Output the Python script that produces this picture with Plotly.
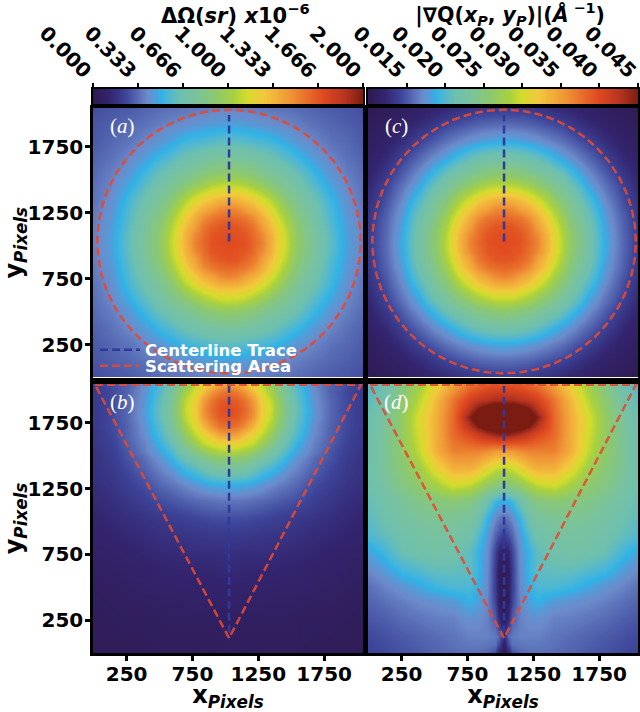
import numpy as np
import plotly.graph_objects as go

W, H = 640, 712
TICK_FONT = dict(family="DejaVu Sans", size=20, color="black", weight="bold")

# colour scale
cmap = [[0, "#2e1a50"], [0.06, "#33246e"], [0.12, "#3d4499"], [0.20, "#6c8aca"], [0.235, "#4aa2dc"], [0.25, "#2fb2e6"],
        [0.275, "#4cb6d6"], [0.32, "#6cbfb0"], [0.37, "#78c2a0"], [0.45, "#8cc870"], [0.52, "#a8d040"], [0.57, "#d4dc2c"],
        [0.63, "#f2c83c"], [0.72, "#f09a38"], [0.85, "#e04a20"], [0.93, "#b83420"], [1, "#7a1c12"]]

# grid nodes, detector pixels
offsets_ac = [1024, 896, 768, 640, 512, 448, 384, 320, 256, 192, 128, 64, 0]
offsets_b = offsets_ac
rows_b = [0, 128, 256, 384, 512, 640, 768, 896, 1024, 1152, 1280, 1408, 1472, 1536, 1600, 1664, 1728, 1792, 1856,
          1920, 1984, 2048]
offsets_d = [1024, 896, 768, 640, 512, 384, 256, 192, 128, 64, 32, 0]
rows_d = [0, 64, 128, 256, 384, 512, 640, 768, 896, 1024, 1152, 1280, 1408, 1536, 1664, 1728, 1792, 1856, 1920, 2048]

# (a) position along the colour bar, lower-left quadrant
omega_a_frac = [
    [.13, .14, .145, .155, .165, .17, .173, .175, .18, .183, .187, .19, .19],
    [.14, .15, .16, .172, .187, .195, .20, .207, .213, .22, .225, .229, .23],
    [.145, .16, .173, .195, .217, .235, .25, .265, .275, .28, .29, .298, .30],
    [.155, .172, .195, .225, .27, .288, .31, .33, .345, .36, .37, .378, .38],
    [.165, .187, .217, .27, .325, .35, .38, .39, .415, .435, .455, .465, .47],
    [.17, .195, .235, .288, .35, .385, .40, .43, .465, .495, .52, .535, .54],
    [.173, .20, .25, .31, .38, .40, .44, .485, .525, .555, .585, .60, .61],
    [.175, .207, .265, .33, .39, .43, .485, .535, .58, .62, .65, .675, .68],
    [.18, .213, .275, .345, .415, .465, .525, .58, .635, .68, .71, .745, .76],
    [.183, .22, .28, .36, .435, .495, .555, .62, .68, .735, .775, .79, .80],
    [.187, .225, .29, .37, .455, .52, .585, .65, .71, .775, .81, .83, .84],
    [.19, .229, .298, .378, .465, .535, .60, .675, .745, .79, .83, .84, .845],
    [.19, .23, .30, .38, .47, .54, .61, .68, .76, .80, .84, .845, .85],
]
# (c) position along the colour bar, lower-left quadrant
gradq_c_frac = [
    [.008, .02, .03, .044, .058, .066, .075, .083, .09, .096, .10, .104, .105],
    [.02, .035, .05, .072, .10, .115, .125, .135, .145, .155, .16, .163, .165],
    [.03, .05, .078, .115, .15, .17, .185, .20, .215, .225, .235, .242, .245],
    [.044, .072, .115, .16, .21, .233, .26, .285, .31, .33, .345, .35, .355],
    [.058, .10, .15, .21, .28, .32, .355, .38, .40, .425, .44, .455, .46],
    [.066, .115, .17, .233, .32, .36, .39, .42, .455, .485, .51, .525, .53],
    [.075, .125, .185, .26, .355, .39, .43, .475, .515, .55, .58, .60, .605],
    [.083, .135, .20, .285, .38, .42, .475, .525, .575, .62, .65, .675, .68],
    [.09, .145, .215, .31, .40, .455, .515, .575, .63, .68, .71, .745, .76],
    [.096, .155, .225, .33, .425, .485, .55, .62, .68, .735, .775, .79, .80],
    [.10, .16, .235, .345, .44, .51, .58, .65, .71, .775, .81, .83, .835],
    [.104, .163, .242, .35, .455, .525, .60, .675, .745, .79, .83, .84, .845],
    [.105, .165, .245, .355, .46, .53, .605, .68, .76, .80, .835, .845, .85],
]
# (b) position along the colour bar, left half, bottom row first
omega_b_frac = [
    [.015, .02, .02, .02, .025, .025, .025, .025, .025, .025, .025, .03, .03],
    [.02, .02, .025, .025, .03, .03, .03, .03, .03, .03, .03, .03, .03],
    [.02, .025, .03, .03, .03, .033, .035, .035, .035, .035, .035, .035, .035],
    [.025, .03, .035, .035, .04, .04, .04, .043, .045, .045, .045, .045, .045],
    [.03, .035, .04, .045, .05, .05, .05, .053, .055, .055, .055, .055, .055],
    [.04, .04, .05, .05, .06, .06, .06, .063, .065, .065, .065, .07, .07],
    [.045, .05, .055, .065, .07, .072, .075, .078, .08, .08, .08, .08, .085],
    [.055, .06, .07, .075, .085, .088, .09, .092, .095, .095, .10, .10, .10],
    [.06, .07, .08, .09, .10, .105, .11, .115, .12, .125, .13, .13, .13],
    [.07, .08, .095, .11, .13, .138, .145, .152, .16, .165, .17, .175, .175],
    [.08, .09, .11, .13, .16, .172, .185, .20, .215, .23, .24, .245, .25],
    [.085, .10, .125, .155, .195, .215, .245, .275, .295, .33, .36, .37, .375],
    [.085, .105, .135, .165, .215, .245, .285, .32, .355, .39, .425, .44, .45],
    [.09, .11, .14, .185, .24, .275, .325, .37, .425, .475, .51, .53, .54],
    [.095, .115, .15, .19, .26, .31, .36, .43, .49, .55, .58, .61, .61],
    [.095, .12, .155, .205, .285, .34, .40, .48, .55, .60, .655, .71, .725],
    [.10, .125, .155, .21, .30, .365, .44, .52, .585, .66, .74, .785, .80],
    [.10, .125, .16, .22, .315, .375, .46, .55, .61, .72, .785, .825, .835],
    [.10, .125, .16, .22, .32, .38, .47, .56, .62, .73, .80, .835, .85],
    [.10, .125, .16, .215, .31, .37, .46, .55, .605, .71, .78, .82, .83],
    [.10, .125, .155, .21, .30, .36, .435, .51, .58, .65, .73, .77, .79],
    [.11, .13, .155, .20, .28, .335, .395, .47, .54, .59, .64, .695, .71],
]
# (d) position along the colour bar, left half, bottom row first (above 1 = saturated dark red)
gradq_d_frac = [
    [.115, .125, .135, .145, .155, .165, .17, .17, .16, .13, .05, .01],
    [.12, .13, .14, .15, .16, .17, .18, .18, .175, .17, .12, .03],
    [.125, .135, .145, .155, .165, .175, .19, .19, .19, .18, .16, .08],
    [.14, .15, .165, .175, .185, .19, .21, .205, .19, .15, .07, .02],
    [.155, .17, .185, .20, .21, .22, .25, .23, .195, .12, .035, .01],
    [.17, .195, .215, .24, .265, .28, .28, .25, .20, .11, .03, .01],
    [.20, .23, .27, .29, .31, .31, .30, .26, .205, .11, .03, .01],
    [.235, .27, .32, .34, .35, .34, .30, .255, .21, .12, .06, .04],
    [.28, .31, .34, .36, .37, .36, .34, .29, .225, .16, .13, .11],
    [.30, .33, .36, .38, .39, .39, .37, .34, .26, .20, .18, .17],
    [.31, .35, .38, .41, .43, .44, .42, .39, .33, .27, .25, .25],
    [.33, .37, .42, .46, .51, .57, .55, .51, .47, .44, .43, .43],
    [.33, .39, .44, .50, .60, .68, .68, .65, .60, .56, .55, .54],
    [.33, .39, .46, .55, .68, .76, .76, .76, .74, .72, .72, .71],
    [.33, .39, .47, .57, .68, .80, .86, .90, .94, .97, .98, .98],
    [.325, .385, .47, .58, .68, .80, .93, 1.0, 1.05, 1.08, 1.08, 1.08],
    [.32, .38, .47, .58, .68, .80, .99, 1.08, 1.15, 1.18, 1.2, 1.2],
    [.31, .37, .46, .56, .67, .79, .93, 1.0, 1.05, 1.08, 1.08, 1.08],
    [.30, .36, .45, .54, .66, .78, .88, .91, .93, .95, .95, .95],
    [.28, .33, .42, .50, .60, .70, .78, .80, .82, .83, .83, .83],
]

OMEGA_MAX = 2.0
GRAD_MIN, GRAD_MAX = 0.010, 0.045

# overlays
center_x, circle_center_y, circle_radius = 1028, 1032, 1000
centerline_top_a = 1992
triangle_x = [10, 2030, 1028, 10]
triangle_y = [2040, 2040, 113, 2040]
centerline_x_b = [1028, 1028]
centerline_y_b = [2040, 113]

omega_ticks = [0, .333, .666, 1, 1.333, 1.666, 2]
omega_labels = ["0.000", "0.333", "0.666", "1.000", "1.333", "1.666", "2.000"]
grad_ticks = [.015, .020, .025, .030, .035, .040, .045]
grad_labels = ["0.015", "0.020", "0.025", "0.030", "0.035", "0.040", "0.045"]
axis_ticks = [250, 750, 1250, 1750]


def mirror_cols(q):
    return [r + r[-2::-1] for r in q]


def mirror2(q):
    rows = mirror_cols(q)
    return rows + rows[-2::-1]


def nodes(offsets):
    return [1024 - o for o in offsets] + [1024 + o for o in offsets[-2::-1]]


x_ac = nodes(offsets_ac)
x_b = nodes(offsets_b)
x_d = nodes(offsets_d)
z_a = (OMEGA_MAX * np.array(mirror2(omega_a_frac))).tolist()
z_c = (GRAD_MIN + (GRAD_MAX - GRAD_MIN) * np.array(mirror2(gradq_c_frac))).tolist()
z_b = (OMEGA_MAX * np.array(mirror_cols(omega_b_frac))).tolist()
z_d = (GRAD_MIN + (GRAD_MAX - GRAD_MIN) * np.array(mirror_cols(gradq_d_frac))).tolist()

fig = go.Figure()
RED = "rgba(226,74,50,0.9)"
BLUE = "#2e3a9c"
DASH = "8px,4px"
LW = 2.5


def heat(z, x, y, axes, ca):
    fig.add_trace(go.Heatmap(z=z, x=x, y=y, xaxis="x" + axes, yaxis="y" + axes, coloraxis=ca,
                             zsmooth="best", hoverinfo="skip"))


heat(z_a, x_ac, x_ac, "", "coloraxis")
heat(z_c, x_ac, x_ac, "2", "coloraxis2")
heat(z_b, x_b, rows_b, "3", "coloraxis")
heat(z_d, x_d, rows_d, "4", "coloraxis2")

# colour bars, drawn as gradient strips with their own top axes
strip_a = np.linspace(0, OMEGA_MAX, 271).tolist()
strip_c = np.linspace(GRAD_MIN, GRAD_MAX, 271).tolist()
heat([strip_a, strip_a], strip_a, [0, 1], "5", "coloraxis")
heat([strip_c, strip_c], strip_c, [0, 1], "6", "coloraxis2")

theta = np.linspace(0, 2 * np.pi, 241)
circ_x = center_x + circle_radius * np.cos(theta)
circ_y = circle_center_y + circle_radius * np.sin(theta)

for i, axes in enumerate(["", "2"]):
    fig.add_trace(go.Scatter(x=[center_x, center_x], y=[circle_center_y, centerline_top_a], mode="lines",
                             xaxis="x" + axes, yaxis="y" + axes, name="Centerline Trace",
                             line=dict(color=BLUE, width=LW, dash=DASH), showlegend=i == 0, legend="legend"))
    fig.add_trace(go.Scatter(x=circ_x, y=circ_y, mode="lines", xaxis="x" + axes, yaxis="y" + axes,
                             name="Scattering Area", line=dict(color=RED, width=LW, dash=DASH),
                             showlegend=i == 0, legend="legend2"))
for axes in ["3", "4"]:
    fig.add_trace(go.Scatter(x=centerline_x_b, y=centerline_y_b, mode="lines", xaxis="x" + axes, yaxis="y" + axes,
                             line=dict(color=BLUE, width=LW, dash=DASH), showlegend=False))
    fig.add_trace(go.Scatter(x=triangle_x, y=triangle_y, mode="lines", xaxis="x" + axes, yaxis="y" + axes,
                             line=dict(color=RED, width=LW, dash=DASH), showlegend=False))


def px_x(a, b):
    return [a / W, b / W]


def px_y(top, bot):
    return [1 - bot / H, 1 - top / H]


def xaxis(dom, anchor, labels):
    d = dict(domain=dom, anchor=anchor, range=[-5, 2045], showgrid=False, zeroline=False, mirror=True,
             showline=True, linecolor="black", linewidth=2.5)
    if labels:
        d.update(tickvals=axis_ticks, ticks="outside", ticklen=5, tickwidth=2.5, tickcolor="black",
                 tickfont=TICK_FONT, ticklabelstandoff=-4,
                 title=dict(text="<b>x<sub><i>Pixels</i></sub></b>", standoff=10,
                            font=dict(family="DejaVu Sans", size=24, color="black")))
    else:
        d.update(showticklabels=False, ticks="")
    return d


def yaxis(dom, anchor, labels):
    d = dict(domain=dom, anchor=anchor, range=[0, 2045], showgrid=False, zeroline=False, mirror=True,
             showline=True, linecolor="black", linewidth=2.5)
    if labels:
        d.update(tickvals=axis_ticks, ticks="outside", ticklen=5, tickwidth=2.5, tickcolor="black",
                 tickfont=TICK_FONT, ticklabelstandoff=-2,
                 title=dict(text="<b>y<sub><i>Pixels</i></sub></b>", standoff=8,
                            font=dict(family="DejaVu Sans", size=24, color="black")))
    else:
        d.update(showticklabels=False, ticks="")
    return d


def bar_x(dom, anchor, rng, ticks, labels, title, size):
    return dict(domain=dom, anchor=anchor, range=rng, side="top", showgrid=False, zeroline=False, mirror=True,
                showline=True, linecolor="black", linewidth=1.5, tickvals=ticks, ticktext=labels,
                ticks="outside", ticklen=4, tickwidth=1.5, tickcolor="black", tickangle=45, tickfont=TICK_FONT,
                ticklabelstandoff=-7, ticklabelshift=-3, ticklabeloverflow="allow",
                title=dict(text=title, standoff=5, font=dict(family="DejaVu Sans", size=size, color="black")))


def bar_y(dom, anchor):
    return dict(domain=dom, anchor=anchor, range=[0, 1], showgrid=False, zeroline=False, mirror=True, showline=True,
                linecolor="black", linewidth=1.5, showticklabels=False, ticks="")


LEG_FONT = dict(family="DejaVu Sans", size=16.5, color="white", weight="bold")
panel_labels = [("(<i>a</i>)", 122, 126), ("(<i>c</i>)", 396, 126), ("(<i>b</i>)", 122, 402), ("(<i>d</i>)", 396, 402)]

fig.update_layout(
    width=W, height=H, margin=dict(l=0, r=0, t=0, b=0, autoexpand=False), paper_bgcolor="white",
    plot_bgcolor="white",
    xaxis=xaxis(px_x(93, 363), "y", False), yaxis=yaxis(px_y(108, 377.5), "x", True),
    xaxis2=xaxis(px_x(368, 638), "y2", False), yaxis2=yaxis(px_y(108, 377.5), "x2", False),
    xaxis3=xaxis(px_x(93, 363), "y3", True), yaxis3=yaxis(px_y(384, 653), "x3", True),
    xaxis4=xaxis(px_x(368, 638), "y4", True), yaxis4=yaxis(px_y(384, 653), "x4", False),
    xaxis5=bar_x(px_x(93, 363), "y5", [0, OMEGA_MAX], omega_ticks, omega_labels,
                 "<b>\u00a0\u00a0ΔΩ(<i>sr</i>) <i>x</i>10<sup>−6</sup></b>", 21),
    yaxis5=bar_y(px_y(89, 104), "x5"),
    xaxis6=bar_x(px_x(368, 638), "y6", [GRAD_MIN, GRAD_MAX + 1e-6], grad_ticks, grad_labels,
                 "<b>\u00a0\u00a0|∇Q(<i>x<sub>P</sub></i>, <i>y<sub>P</sub></i>)|(<i>Å</i><sup> −1</sup>)</b>", 20.5),
    yaxis6=bar_y(px_y(89, 104), "x6"),
    coloraxis=dict(colorscale=cmap, cmin=0, cmax=OMEGA_MAX, showscale=False),
    coloraxis2=dict(colorscale=cmap, cmin=GRAD_MIN, cmax=GRAD_MAX, showscale=False),
    legend=dict(x=95 / W, y=1 - 350 / H, xanchor="left", yanchor="middle", bgcolor="rgba(0,0,0,0)",
                font=LEG_FONT, itemwidth=40, borderwidth=0),
    legend2=dict(x=95 / W, y=1 - 366 / H, xanchor="left", yanchor="middle", bgcolor="rgba(0,0,0,0)",
                 font=LEG_FONT, itemwidth=40, borderwidth=0),
    annotations=[dict(text=t, x=x / W, y=1 - y / H, xref="paper", yref="paper", showarrow=False,
                      xanchor="center", yanchor="middle",
                      font=dict(family="Liberation Serif", size=21, color="white"))
                 for t, x, y in panel_labels],
)

fig.write_html("out.html", config={"displayModeBar": False},
               post_script="document.body.style.margin='0';document.documentElement.style.overflow='hidden';")
